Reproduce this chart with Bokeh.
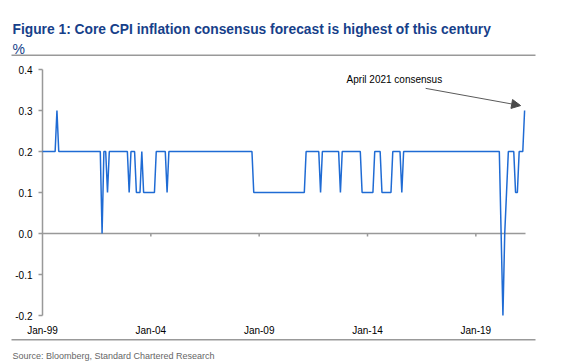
import numpy as np
from bokeh.plotting import figure
from bokeh.models import (Range1d, FixedTicker, NumeralTickFormatter, Label,
                          Arrow, NormalHead)
from bokeh.core.properties import value
from bokeh.embed import file_html
from bokeh.resources import INLINE

FONT = "Liberation Sans"
W, H = 567, 361

title_text = "Figure 1: Core CPI inflation consensus forecast is highest of this century"
unit_text = "%"
source_text = "Source: Bloomberg, Standard Chartered Research"
annotation_text = "April 2021 consensus"

# Monthly core CPI consensus forecast (% m/m), Jan 1999 .. Apr 2021
v1999 = [0.2, 0.2, 0.2, 0.2, 0.2, 0.2, 0.2, 0.2, 0.3, 0.2, 0.2, 0.2]
v2000 = [0.2, 0.2, 0.2, 0.2, 0.2, 0.2, 0.2, 0.2, 0.2, 0.2, 0.2, 0.2]
v2001 = [0.2, 0.2, 0.2, 0.2, 0.2, 0.2, 0.2, 0.2, 0.2, 0.0, 0.2, 0.2]
v2002 = [0.1, 0.2, 0.2, 0.2, 0.2, 0.2, 0.2, 0.2, 0.2, 0.2, 0.2, 0.2]
v2003 = [0.1, 0.2, 0.2, 0.2, 0.1, 0.1, 0.1, 0.2, 0.1, 0.1, 0.1, 0.1]
v2004 = [0.1, 0.1, 0.1, 0.2, 0.2, 0.2, 0.2, 0.2, 0.2, 0.1, 0.2, 0.2]
v2005 = [0.2, 0.2, 0.2, 0.2, 0.2, 0.2, 0.2, 0.2, 0.2, 0.2, 0.2, 0.2]
v2006 = [0.2, 0.2, 0.2, 0.2, 0.2, 0.2, 0.2, 0.2, 0.2, 0.2, 0.2, 0.2]
v2007 = [0.2, 0.2, 0.2, 0.2, 0.2, 0.2, 0.2, 0.2, 0.2, 0.2, 0.2, 0.2]
v2008 = [0.2, 0.2, 0.2, 0.2, 0.2, 0.2, 0.2, 0.2, 0.2, 0.1, 0.1, 0.1]
v2009 = [0.1, 0.1, 0.1, 0.1, 0.1, 0.1, 0.1, 0.1, 0.1, 0.1, 0.1, 0.1]
v2010 = [0.1, 0.1, 0.1, 0.1, 0.1, 0.1, 0.1, 0.1, 0.1, 0.1, 0.1, 0.1]
v2011 = [0.1, 0.1, 0.2, 0.2, 0.2, 0.2, 0.2, 0.2, 0.2, 0.2, 0.1, 0.2]
v2012 = [0.2, 0.2, 0.2, 0.2, 0.2, 0.2, 0.2, 0.2, 0.2, 0.1, 0.2, 0.2]
v2013 = [0.2, 0.2, 0.2, 0.2, 0.2, 0.2, 0.2, 0.2, 0.2, 0.1, 0.1, 0.1]
v2014 = [0.1, 0.1, 0.1, 0.1, 0.2, 0.2, 0.2, 0.2, 0.1, 0.1, 0.1, 0.1]
v2015 = [0.1, 0.1, 0.2, 0.2, 0.2, 0.2, 0.2, 0.1, 0.2, 0.2, 0.2, 0.2]
v2016 = [0.2, 0.2, 0.2, 0.2, 0.2, 0.2, 0.2, 0.2, 0.2, 0.2, 0.2, 0.2]
v2017 = [0.2, 0.2, 0.2, 0.2, 0.2, 0.2, 0.2, 0.2, 0.2, 0.2, 0.2, 0.2]
v2018 = [0.2, 0.2, 0.2, 0.2, 0.2, 0.2, 0.2, 0.2, 0.2, 0.2, 0.2, 0.2]
v2019 = [0.2, 0.2, 0.2, 0.2, 0.2, 0.2, 0.2, 0.2, 0.2, 0.2, 0.2, 0.2]
v2020 = [0.2, 0.2, 0.0, -0.2, 0.0, 0.1, 0.2, 0.2, 0.2, 0.2, 0.1, 0.1]
v2021 = [0.2, 0.2, 0.2, 0.3]

values = (v1999 + v2000 + v2001 + v2002 + v2003 + v2004 + v2005 + v2006 + v2007
          + v2008 + v2009 + v2010 + v2011 + v2012 + v2013 + v2014 + v2015 + v2016
          + v2017 + v2018 + v2019 + v2020 + v2021)
months = np.arange(len(values))  # months since Jan-99

x_tick_months = [0, 60, 120, 180, 240]
x_tick_labels = ["Jan-99", "Jan-04", "Jan-09", "Jan-14", "Jan-19"]
y_ticks = [-0.2, -0.1, 0.0, 0.1, 0.2, 0.3, 0.4]

# plot-area placement on the canvas (pixels)
PL, PR, PT, PB = 42, 525, 69, 315
x_lo, x_hi = 0, len(values) - 0.5
y_lo, y_hi = min(y_ticks), max(y_ticks)
sx = (PR - PL) / (x_hi - x_lo)
sy = (PB - PT) / (y_hi - y_lo)

RULE = "#999999"
NAVY = "#173f8a"
AXIS = "#999999"

p = figure(width=W, height=H, output_backend="svg", toolbar_location=None,
           x_range=Range1d(x_lo - PL / sx, x_hi + (W - PR) / sx),
           y_range=Range1d(y_lo - (H - PB) / sy, y_hi + PT / sy),
           min_border=0)
p.title.visible = False
p.outline_line_color = None
p.xgrid.visible = False
p.ygrid.visible = False
p.background_fill_color = "white"
p.border_fill_color = "white"
p.extra_x_ranges = {"px": Range1d(0, W)}
p.extra_y_ranges = {"px": Range1d(H, 0)}

# x tick labels along the bottom of the plot area
xa = p.xaxis[0]
xa.fixed_location = y_lo
xa.ticker = FixedTicker(ticks=x_tick_months)
xa.major_label_overrides = {m: lab for m, lab in zip(x_tick_months, x_tick_labels)}
xa.axis_line_color = None
xa.major_tick_line_color = None
xa.major_tick_in = 0
xa.major_tick_out = 0
xa.minor_tick_line_color = None
xa.major_label_standoff = 9
xa.major_label_text_font = FONT
xa.major_label_text_font_size = "10px"
xa.major_label_text_color = "#000000"

# y tick labels left of the value axis
ya = p.yaxis[0]
ya.fixed_location = x_lo
ya.bounds = (y_lo, y_hi)
ya.ticker = FixedTicker(ticks=y_ticks)
ya.formatter = NumeralTickFormatter(format="0.0")
ya.axis_line_color = None
ya.major_tick_line_color = None
ya.major_tick_in = 0
ya.major_tick_out = 4
ya.minor_tick_line_color = None
ya.major_label_standoff = 6
ya.major_label_text_font = FONT
ya.major_label_text_font_size = "10px"
ya.major_label_text_color = "#000000"

# axis lines and tick marks
p.segment(x0=[x_lo], y0=[y_lo], x1=[x_lo], y1=[y_hi], line_color=AXIS, line_width=1.5)
p.segment(x0=[x_lo - 4 / sx] * len(y_ticks), y0=y_ticks,
          x1=[x_lo] * len(y_ticks), y1=y_ticks, line_color=AXIS, line_width=1.5)
p.segment(x0=[x_lo], y0=[0], x1=[x_hi], y1=[0], line_color=AXIS, line_width=1.5)
p.segment(x0=x_tick_months[1:], y0=[0] * 4, x1=x_tick_months[1:], y1=[-3 / sy] * 4,
          line_color=AXIS, line_width=1.5)

p.line(months, values, line_color="#1f6bd4", line_width=1.5)

p.add_layout(Arrow(end=NormalHead(size=9, fill_color="#4a4a4a", line_color="#4a4a4a"),
                   x_start=212.2, y_start=0.354, x_end=264.8, y_end=0.312,
                   line_color="#5a5a5a", line_width=1))
p.add_layout(Label(x=168.4, y=0.3756, text=annotation_text, text_font=FONT,
                   text_font_size="10px", text_color="#000000",
                   text_baseline="alphabetic"))

# header and footer (pixel coordinates)
p.text(x=[12], y=[29], text=[title_text], text_font=value(FONT),
       text_font_size="13.8px", text_font_style="bold", text_color=NAVY,
       text_baseline="alphabetic", x_range_name="px", y_range_name="px")
p.text(x=[12], y=[48], text=[unit_text], text_font=value(FONT),
       text_font_size="14px", text_color=NAVY, text_baseline="alphabetic",
       x_range_name="px", y_range_name="px")
p.segment(x0=[11, 11], y0=[54.7, 339.3], x1=[535, 535], y1=[54.7, 339.3],
          line_color=RULE, line_width=1.5, x_range_name="px", y_range_name="px")
p.text(x=[12], y=[355], text=[source_text], text_font=value(FONT),
       text_font_size="9px", text_color="#666666", text_baseline="alphabetic",
       x_range_name="px", y_range_name="px")

open("out.html", "w").write(file_html(p, INLINE))
